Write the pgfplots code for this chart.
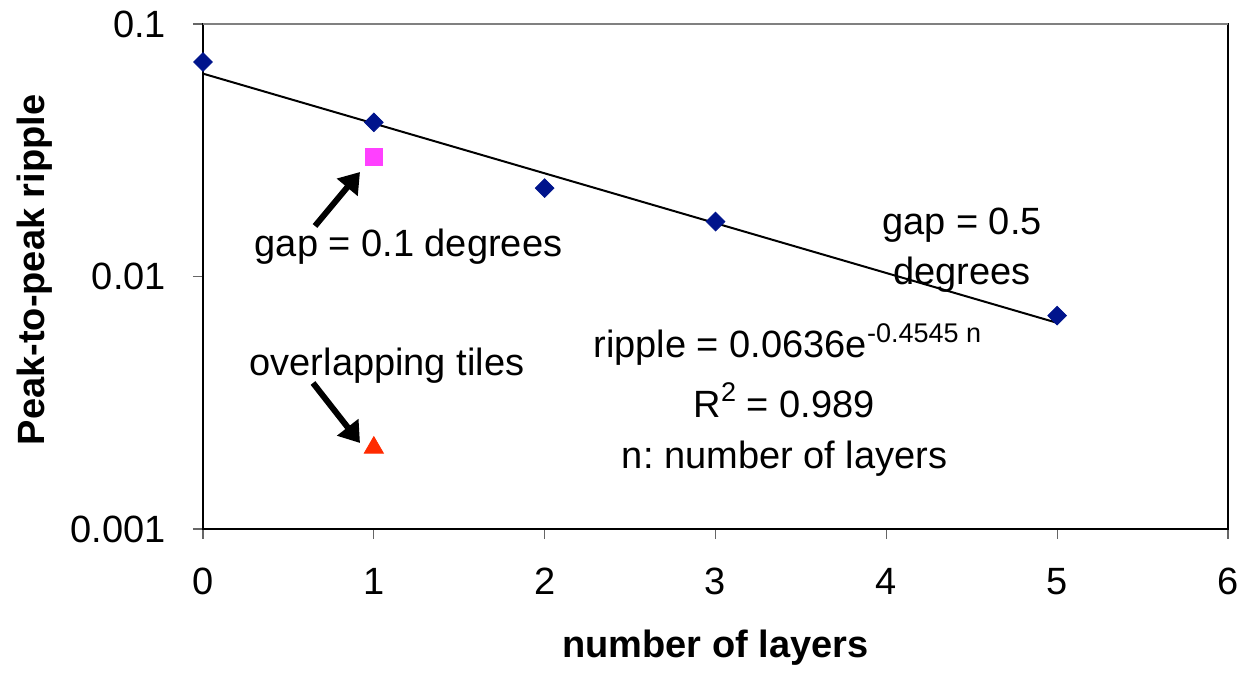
\documentclass[border=0pt]{standalone}
\usepackage{fontspec}
\setmainfont{Liberation Sans}
\usepackage{pgfplots}
\pgfplotsset{compat=1.18}
\usetikzlibrary{arrows.meta}
\definecolor{navyd}{RGB}{0,20,140}
\definecolor{pinkm}{RGB}{255,64,255}
\definecolor{redt}{RGB}{255,42,0}
\begin{document}
\frenchspacing
\fontsize{19}{23}\selectfont
\begin{tikzpicture}
\useasboundingbox (-101.5pt,-75.5pt) rectangle (521pt,264.5pt);
\begin{axis}[
  at={(0,0)}, anchor=south west,
  scale only axis, width=512.5pt, height=252.5pt,
  ymode=log, xmin=0, xmax=6, ymin=0.001, ymax=0.1,
  xtick={0,1,2,3,4,5,6},
  ytick={0.001,0.01,0.1}, yticklabels={0.001,0.01,0.1},
  yminorticks=false,
  tick pos=left, tick align=outside, major tick length=5pt,
  tick style={gray!80!black, line width=0.6pt},
  axis line style={black, line width=0.7pt},
  /pgf/number format/assume math mode=true,
  ticklabel style={font=\fontsize{19}{23}\selectfont},
  yticklabel style={xshift=-7pt},
  xticklabel style={yshift=-8pt},
  xlabel={\bfseries number of layers},
  ylabel={\bfseries Peak-to-peak ripple},
  xlabel style={at={(axis description cs:0.5,-0.2554)}, anchor=base, font=\fontsize{19}{23}\selectfont},
  ylabel style={at={(axis description cs:-0.164,0.513)}, anchor=center, font=\fontsize{19}{23}\selectfont},
  clip=false,
]
\addplot[black, line width=1pt, no marks] coordinates {(0,0.0636) (5,0.006554)};
\addplot[only marks, mark=square*, mark size=3.3pt, mark options={rotate=45, fill=navyd, draw=navyd}]
  coordinates {(0,0.0707) (1,0.0408) (2,0.0224) (3,0.0165) (5,0.0070)};
\addplot[only marks, mark=square*, mark size=4.2pt, mark options={fill=pinkm, draw=pinkm}]
  coordinates {(1,0.0297)};
\addplot[only marks, mark=triangle*, mark size=5.5pt, mark options={fill=redt, draw=redt}]
  coordinates {(1,0.0021)};
\end{axis}
\draw[gray, line width=0.8pt] (0,252.5pt) -- (512.5pt,252.5pt);
\draw[line width=3pt, -{Triangle[length=10pt,width=13pt]}] (56pt,151.5pt) -- (78.5pt,178.5pt);
\draw[line width=3pt, -{Triangle[length=10pt,width=13pt]}] (55pt,73pt) -- (78.5pt,43pt);
\node[anchor=base] at (102.75pt,136pt) {gap = 0.1 degrees};
\node[anchor=base] at (92pt,77pt) {overlapping tiles};
\node[anchor=base] at (379.5pt,147pt) {gap = 0.5};
\node[anchor=base] at (379.5pt,122pt) {degrees};
\node[anchor=base west, inner sep=0pt] at (195pt,85.5pt) {ripple = 0.0636e\raisebox{8pt}{\fontsize{13.5}{16}\selectfont -0.4545 n}};
\node[anchor=base] at (290.5pt,56pt) {R\raisebox{8pt}{\fontsize{13.5}{16}\selectfont 2} = 0.989};
\node[anchor=base] at (290.75pt,30.5pt) {n: number of layers};
\end{tikzpicture}
\end{document}
